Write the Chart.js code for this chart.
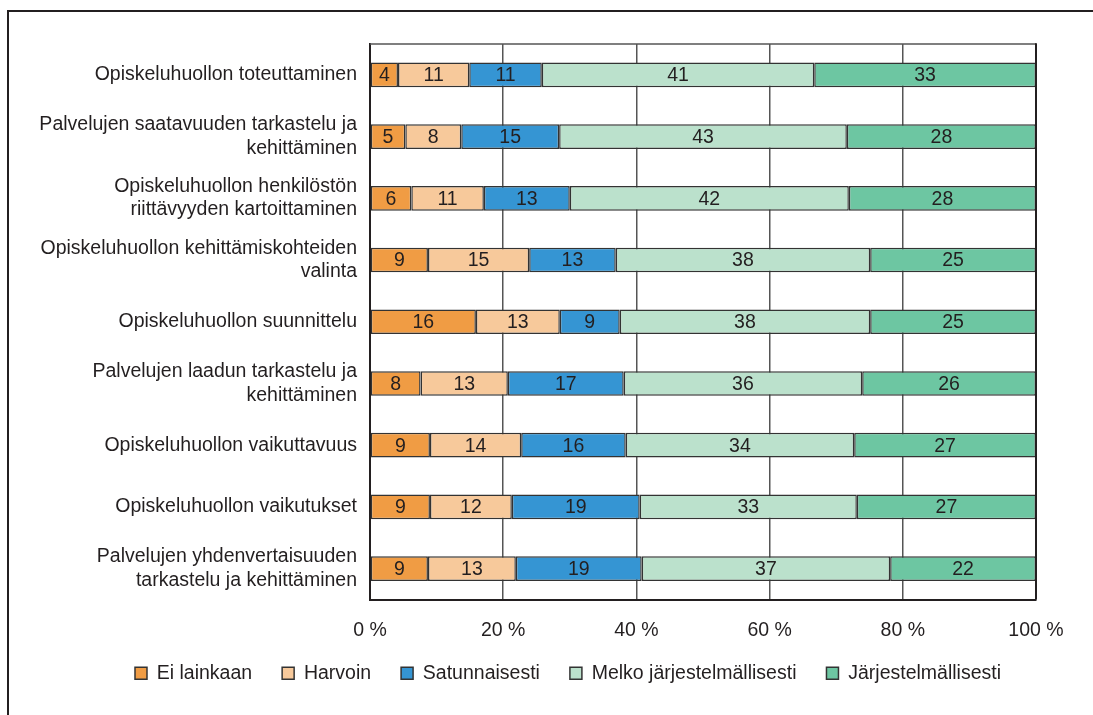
<!DOCTYPE html>
<html><head><meta charset="utf-8">
<script src="https://cdn.jsdelivr.net/npm/chart.js@4.4.1/dist/chart.umd.min.js"></script>
<style>
html,body{margin:0;padding:0;background:#fff;overflow:hidden;}
#wrap{position:relative;width:1093px;height:715px;overflow:hidden;}
#frame{position:absolute;left:7px;top:10px;width:1200px;height:800px;border:2px solid #231f20;box-sizing:border-box;}
canvas{position:absolute;left:0;top:0;}
</style></head><body>
<div id="wrap"><div id="frame"></div><canvas id="c" width="1093" height="715"></canvas></div>
<script>
const categories = [
  "Opiskeluhuollon toteuttaminen",
  ["Palvelujen saatavuuden tarkastelu ja", "kehittäminen"],
  ["Opiskeluhuollon henkilöstön", "riittävyyden kartoittaminen"],
  ["Opiskeluhuollon kehittämiskohteiden", "valinta"],
  "Opiskeluhuollon suunnittelu",
  ["Palvelujen laadun tarkastelu ja", "kehittäminen"],
  "Opiskeluhuollon vaikuttavuus",
  "Opiskeluhuollon vaikutukset",
  ["Palvelujen yhdenvertaisuuden", "tarkastelu ja kehittäminen"]
];
const seriesNames = ["Ei lainkaan", "Harvoin", "Satunnaisesti", "Melko järjestelmällisesti", "Järjestelmällisesti"];
const eiLainkaan    = [4.2, 5.3, 6.2, 8.7, 15.9, 7.6, 9.0, 9.0, 8.7];
const harvoin       = [10.7, 8.4, 10.9, 15.2, 12.6, 13.1, 13.7, 12.3, 13.2];
const satunnaisesti = [10.9, 14.7, 12.9, 13.0, 9.0, 17.4, 15.7, 19.2, 18.9];
const melkoJarj     = [40.9, 43.2, 41.9, 38.2, 37.6, 35.8, 34.3, 32.6, 37.3];
const jarjestelm    = [33.3, 28.4, 28.1, 24.9, 24.9, 26.1, 27.3, 26.9, 21.9];
const xTickValues   = [0, 20, 40, 60, 80, 100];

const seriesData = [eiLainkaan, harvoin, satunnaisesti, melkoJarj, jarjestelm];
const colors = ["#F09C44", "#F7C99B", "#3595D3", "#BBE1CC", "#6DC6A2"];
const TEXT = "#231f20";
const FONT = {family: "'Liberation Sans', Arial, sans-serif", size: 19.5};

function noClip(s) { s._computeLabelArea = function () { return undefined; }; }

const labelPlugin = {
  id: 'segLabels',
  afterDatasetsDraw(chart) {
    const ctx = chart.ctx;
    ctx.save();
    ctx.font = FONT.size + "px " + FONT.family;
    ctx.fillStyle = TEXT;
    ctx.textAlign = 'center';
    ctx.textBaseline = 'middle';
    chart.data.datasets.forEach((ds, di) => {
      const meta = chart.getDatasetMeta(di);
      meta.data.forEach((el, i) => {
        const v = ds.data[i];
        ctx.fillText(String(Math.round(v)), (el.x + el.base) / 2, el.y + 1);
      });
    });
    ctx.restore();
  }
};
const framePlugin = {
  id: 'plotFrame',
  afterDraw(chart) {
    const a = chart.chartArea, ctx = chart.ctx;
    ctx.save();
    ctx.strokeStyle = "#555";
    ctx.lineWidth = 1.5;
    ctx.beginPath(); ctx.moveTo(a.left, a.top); ctx.lineTo(a.right, a.top); ctx.stroke();
    ctx.strokeStyle = TEXT;
    ctx.lineWidth = 2;
    ctx.beginPath(); ctx.moveTo(a.right, a.top - 0.75); ctx.lineTo(a.right, a.bottom); ctx.stroke();
    ctx.restore();
  }
};

new Chart(document.getElementById('c'), {
  type: 'bar',
  data: {
    labels: categories,
    datasets: seriesNames.map((n, i) => ({
      label: n,
      data: seriesData[i],
      backgroundColor: colors[i],
      borderColor: "#333",
      borderWidth: 1.5,
      borderSkipped: false,
      barPercentage: 0.4,
      categoryPercentage: 1.0
    }))
  },
  options: {
    indexAxis: 'y',
    responsive: false,
    animation: false,
    layout: {padding: {left: 100, right: 57, top: 44, bottom: 22}},
    scales: {
      x: {
        stacked: true, min: 0, max: 100,
        afterBuildTicks(s) { s.ticks = xTickValues.map(v => ({value: v})); },
        afterFit(s) { s.height = 34; noClip(s); },
        ticks: {callback: v => v + " %", padding: 19, color: TEXT, font: FONT, maxRotation: 0},
        grid: {color: "#555", lineWidth: 1.5, drawTicks: false},
        border: {color: TEXT, width: 2}
      },
      y: {
        stacked: true,
        afterFit(s) { s.width = 270; noClip(s); },
        ticks: {padding: 13, color: TEXT, font: FONT, autoSkip: false},
        grid: {display: false, drawTicks: false},
        border: {color: TEXT, width: 2}
      }
    },
    plugins: {
      legend: {
        position: 'bottom',
        labels: {boxWidth: 12, boxHeight: 12, padding: 30, color: TEXT, font: FONT}
      },
      tooltip: {enabled: false}
    }
  },
  plugins: [labelPlugin, framePlugin]
});
</script>
</body></html>
